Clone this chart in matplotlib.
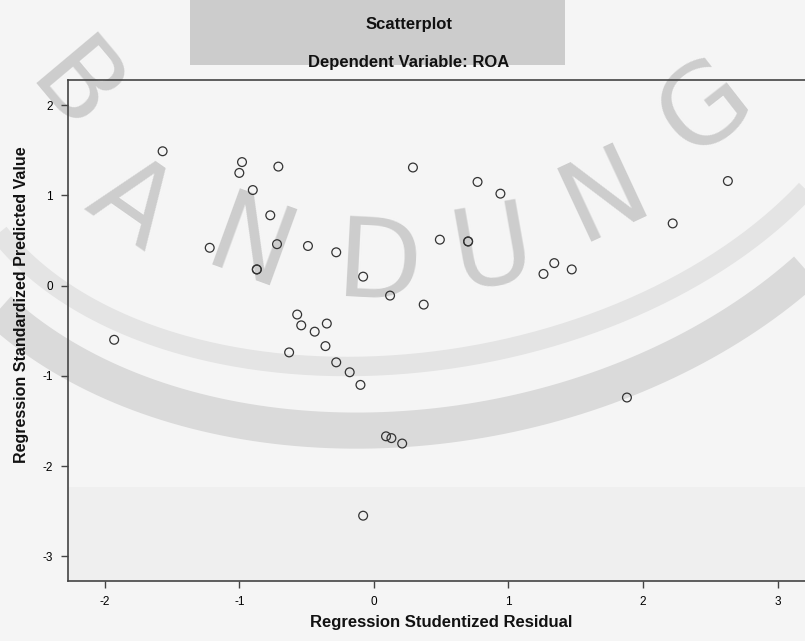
import matplotlib
matplotlib.use("Agg")
import matplotlib.pyplot as plt
from matplotlib.patches import Rectangle
import numpy as np

plt.rcParams['font.family'] = ['Liberation Sans', 'DejaVu Sans']
plt.rcParams['axes.unicode_minus'] = False

# residual vs predicted
resid = [-1.57, -0.98, -1.00, -0.71, 0.29, -0.90, -0.77, -1.22, -0.72, -0.49,
         -0.28, -0.87, -0.87, -0.08, 0.12, 0.37, 0.49, -0.57, -0.54, -0.44,
         -0.35, -0.36, -0.63, -0.28, -0.18, -0.10, -1.93, 0.77, 0.94, 0.70,
         0.70, 1.34, 1.26, 1.47, 2.22, 2.63, 1.88, 0.09, 0.13, 0.21, -0.08]
pred = [1.49, 1.37, 1.25, 1.32, 1.31, 1.06, 0.78, 0.42, 0.46, 0.44,
        0.37, 0.18, 0.18, 0.10, -0.11, -0.21, 0.51, -0.32, -0.44, -0.51,
        -0.42, -0.67, -0.74, -0.85, -0.96, -1.10, -0.60, 1.15, 1.02, 0.49,
        0.49, 0.25, 0.13, 0.18, 0.69, 1.16, -1.24, -1.67, -1.69, -1.75, -2.55]

xticks = [-2, -1, 0, 1, 2, 3]
yticks = [-3, -2, -1, 0, 1, 2]

W, H = 805, 641
fig = plt.figure(figsize=(W / 100, H / 100), dpi=100)
fig.patch.set_facecolor('#f5f5f5')

# background layer in pixel coords (the BANDUNG watermark)
bg = fig.add_axes([0, 0, 1, 1], zorder=0)
bg.set_xlim(0, W)
bg.set_ylim(H, 0)
bg.axis('off')
bg.add_patch(Rectangle((68, 487), 750, 94, color='#efefef', lw=0))


def arc(cx, cy, a, b, phi):
    t = np.linspace(0, np.pi, 300)
    c, s = np.cos(np.radians(phi)), np.sin(np.radians(phi))
    return (cx + a * np.cos(t) * c - b * np.sin(t) * s,
            cy + a * np.cos(t) * s + b * np.sin(t) * c)


for a, b, lw, col in [(520, 365, 26, '#dadada'), (470, 300, 14, '#e4e4e4')]:
    xs, ys = arc(420, 60, a, b, -10)
    bg.plot(xs, ys, color=col, lw=lw, solid_capstyle='butt')

letters = [('B', 72, 92, -50), ('A', 130, 205, -35), ('N', 250, 250, -20),
           ('D', 378, 268, -3), ('U', 493, 252, 10), ('N', 605, 197, 25),
           ('G', 706, 108, 38)]
for ch, lx, ly, rot in letters:
    bg.text(lx, ly, ch, fontsize=80, color='#cdcdcd', ha='center', va='center',
            rotation=rot, family='DejaVu Sans')
bg.add_patch(Rectangle((190, 0), 375, 65, color='#c9c9c9', lw=0, alpha=0.92))

ax = fig.add_axes([68 / W, 1 - 581 / H, (814 - 68) / W, (581 - 80) / H], zorder=1)
ax.patch.set_alpha(0)
ax.scatter(resid, pred, s=40, facecolors='none', edgecolors='#333333', linewidths=0.9)

ax.set_xlim(-2.273, 3.27)
ax.set_ylim(-3.274, 2.28)
ax.set_xticks(xticks)
ax.set_xticklabels([str(v) for v in xticks])
ax.set_yticks(yticks)
ax.set_yticklabels([str(v) for v in yticks])
ax.tick_params(labelsize=8.5, length=5, width=1, color='#444444', pad=6)
for side in ['top', 'left', 'bottom']:
    ax.spines[side].set_color('#444444')
    ax.spines[side].set_linewidth(1.2)
ax.spines['right'].set_visible(False)

fig.text(409 / W, 1 - 24 / H, 'Scatterplot', fontsize=12, weight='bold',
         ha='center', va='center', color='#111111')
fig.text(409 / W, 1 - 63 / H, 'Dependent Variable: ROA', fontsize=12, weight='bold',
         ha='center', va='center', color='#111111')
fig.text(441 / W, 1 - 623 / H, 'Regression Studentized Residual', fontsize=12,
         weight='bold', ha='center', va='center', color='#111111')
fig.text(22 / W, 1 - 305 / H, 'Regression Standardized Predicted Value', fontsize=11.5,
         weight='bold', ha='center', va='center', rotation=90, color='#111111')

fig.savefig('out.png', dpi=100)
